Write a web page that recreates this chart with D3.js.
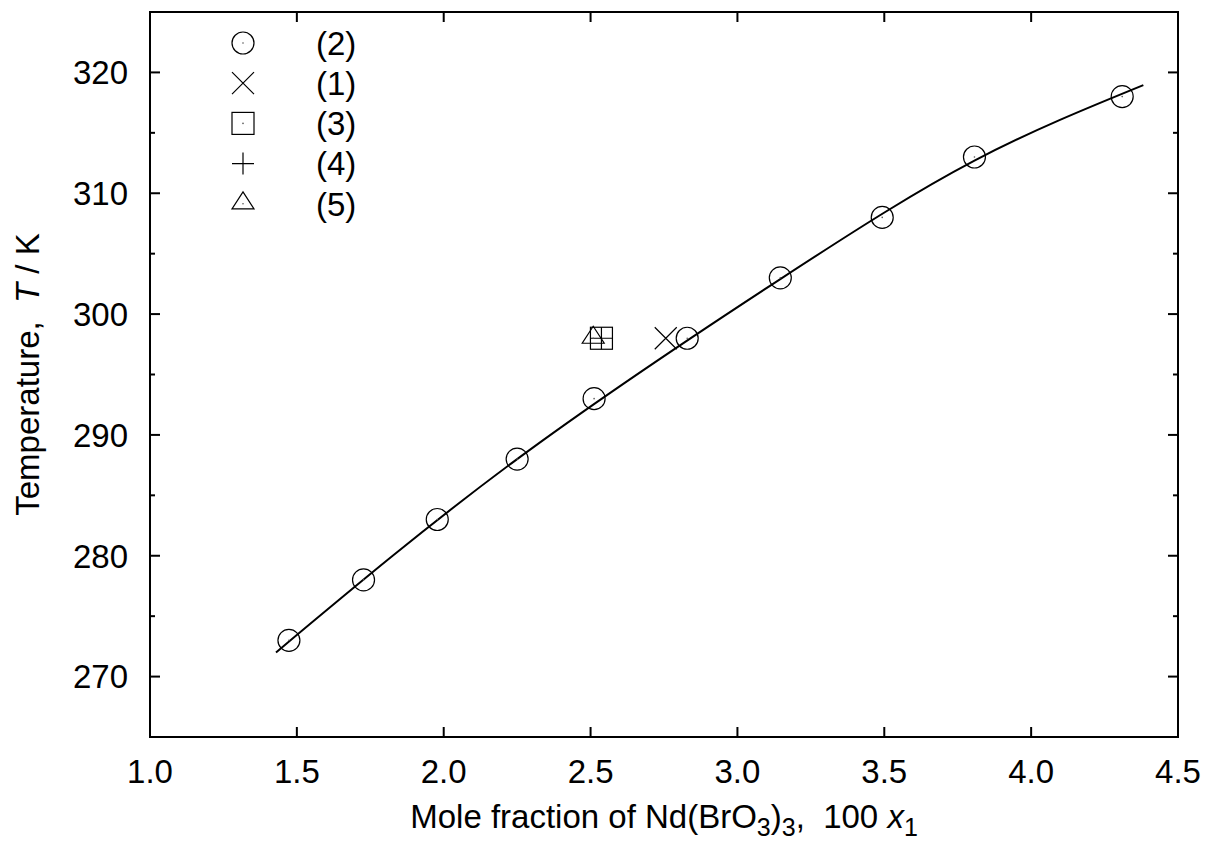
<!DOCTYPE html>
<html>
<head>
<meta charset="utf-8">
<script src="https://cdn.jsdelivr.net/npm/d3@7"></script>
<style>
  body { margin: 0; background: #fff; }
  text { font-family: "Liberation Sans", Arial, Helvetica, sans-serif; fill: #000; }
</style>
</head>
<body>
<div id="chart"></div>
<script>
// solubility data
const circX = [1.473, 1.727, 1.978, 2.250, 2.512, 2.829, 3.146, 3.493, 3.807, 4.310];
const circT = [273, 278, 283, 288, 293, 298, 303, 308, 313, 318];
const crossX = [2.756], crossT = [298];
const squareX = [2.537], squareT = [298];
const plusX = [2.537], plusT = [298];
const triX = [2.509], triT = [298];

// fitted curve, a few points
const fitX = [1.429, 2.250, 3.146, 3.807, 4.382];
const fitT = [272.0, 288.0, 302.9, 312.7, 318.95];

const xTicks = [1.0, 1.5, 2.0, 2.5, 3.0, 3.5, 4.0, 4.5];
const yTicks = [270, 280, 290, 300, 310, 320];
const yMinor = [275, 285, 295, 305, 315];
const legendNames = ["(2)", "(1)", "(3)", "(4)", "(5)"];
const legendKinds = ["circle", "cross", "square", "plus", "triangle"];

const W = 1205, H = 842;
const margin = { top: 12, right: 27, bottom: 105, left: 150 };

const x = d3.scaleLinear()
  .domain([1.0, 4.5])
  .range([margin.left, W - margin.right]);

const y = d3.scaleLinear()
  .domain([265, 325])
  .range([H - margin.bottom, margin.top]);

const svg = d3.select("#chart")
  .append("svg")
  .attr("width", W)
  .attr("height", H);

// ticks, inward on all four sides
const ticks = svg.append("g").attr("stroke", "#000").attr("stroke-width", 2);
xTicks.forEach(v => {
  ticks.append("line").attr("x1", x(v)).attr("x2", x(v)).attr("y1", y(265)).attr("y2", y(265) - 10);
  ticks.append("line").attr("x1", x(v)).attr("x2", x(v)).attr("y1", y(325)).attr("y2", y(325) + 10);
});
yTicks.forEach(v => {
  ticks.append("line").attr("x1", x(1.0)).attr("x2", x(1.0) + 10).attr("y1", y(v)).attr("y2", y(v));
  ticks.append("line").attr("x1", x(4.5)).attr("x2", x(4.5) - 10).attr("y1", y(v)).attr("y2", y(v));
});
yMinor.forEach(v => {
  ticks.append("line").attr("x1", x(1.0)).attr("x2", x(1.0) + 5).attr("y1", y(v)).attr("y2", y(v));
  ticks.append("line").attr("x1", x(4.5)).attr("x2", x(4.5) - 5).attr("y1", y(v)).attr("y2", y(v));
});

// frame
svg.append("rect")
  .attr("x", x(1.0)).attr("y", y(325))
  .attr("width", x(4.5) - x(1.0)).attr("height", y(265) - y(325))
  .attr("fill", "none").attr("stroke", "#000").attr("stroke-width", 2);

// tick labels
svg.append("g").selectAll("text")
  .data(xTicks).enter().append("text")
  .attr("x", d => x(d)).attr("y", 783)
  .attr("text-anchor", "middle").style("font-size", "33px")
  .text(d => d3.format(".1f")(d));

svg.append("g").selectAll("text")
  .data(yTicks).enter().append("text")
  .attr("x", 128).attr("y", d => y(d)).attr("dy", "0.36em")
  .attr("text-anchor", "end").style("font-size", "33px")
  .text(d => d);

// axis titles
const xt = svg.append("text")
  .attr("x", (x(1.0) + x(4.5)) / 2).attr("y", 828)
  .attr("text-anchor", "middle").style("font-size", "33px");
xt.append("tspan").text("Mole fraction of Nd(BrO");
xt.append("tspan").attr("dy", 8).style("font-size", "25px").text("3");
xt.append("tspan").attr("dy", -8).text(")");
xt.append("tspan").attr("dy", 8).style("font-size", "25px").text("3");
xt.append("tspan").attr("dy", -8).text(",\u00a0\u00a0100 ");
xt.append("tspan").style("font-style", "italic").text("x");
xt.append("tspan").attr("dy", 8).style("font-size", "25px").text("1");

const yt = svg.append("text")
  .attr("transform", `translate(39,${(y(265) + y(325)) / 2}) rotate(-90)`)
  .attr("text-anchor", "middle").style("font-size", "33px");
yt.append("tspan").text("Temperature,\u00a0\u00a0");
yt.append("tspan").style("font-style", "italic").text("T");
yt.append("tspan").text(" / K");

// fitted line
svg.append("path")
  .datum(fitX.map((v, i) => [v, fitT[i]]))
  .attr("fill", "none")
  .attr("stroke", "#000")
  .attr("stroke-width", 2)
  .attr("d", d3.line()
    .x(d => x(d[0]))
    .y(d => y(d[1]))
    .curve(d3.curveNatural));

// marker drawing
function marker(g, kind, cx, cy) {
  const s = 11;
  const m = g.append("g").attr("fill", "none").attr("stroke", "#000").attr("stroke-width", 1.2);
  if (kind === "circle") {
    m.append("circle").attr("cx", cx).attr("cy", cy).attr("r", s);
  } else if (kind === "cross") {
    m.append("path").attr("d", `M${cx - s},${cy - s}L${cx + s},${cy + s}M${cx - s},${cy + s}L${cx + s},${cy - s}`);
  } else if (kind === "square") {
    m.append("rect").attr("x", cx - s).attr("y", cy - s).attr("width", 2 * s).attr("height", 2 * s);
  } else if (kind === "plus") {
    m.append("path").attr("d", `M${cx - s},${cy}L${cx + s},${cy}M${cx},${cy - s}L${cx},${cy + s}`);
  } else if (kind === "triangle") {
    m.append("path").attr("d", `M${cx},${cy - 12}L${cx + s},${cy + 5}L${cx - s},${cy + 5}Z`);
  }
  if (kind === "circle" || kind === "square" || kind === "triangle") {
    g.append("circle").attr("cx", cx).attr("cy", cy).attr("r", 0.8).attr("fill", "#555");
  }
}

const pts = svg.append("g");
circX.forEach((v, i) => marker(pts, "circle", x(v), y(circT[i])));
crossX.forEach((v, i) => marker(pts, "cross", x(v), y(crossT[i])));
squareX.forEach((v, i) => marker(pts, "square", x(v), y(squareT[i])));
plusX.forEach((v, i) => marker(pts, "plus", x(v), y(plusT[i])));
triX.forEach((v, i) => marker(pts, "triangle", x(v), y(triT[i])));

// legend
const leg = svg.append("g");
legendNames.forEach((name, i) => {
  const ly = 43 + i * 40.2;
  marker(leg, legendKinds[i], 243, ly);
  leg.append("text")
    .attr("x", 316).attr("y", ly).attr("dy", "0.36em")
    .style("font-size", "33px")
    .text(name);
});
</script>
</body>
</html>
